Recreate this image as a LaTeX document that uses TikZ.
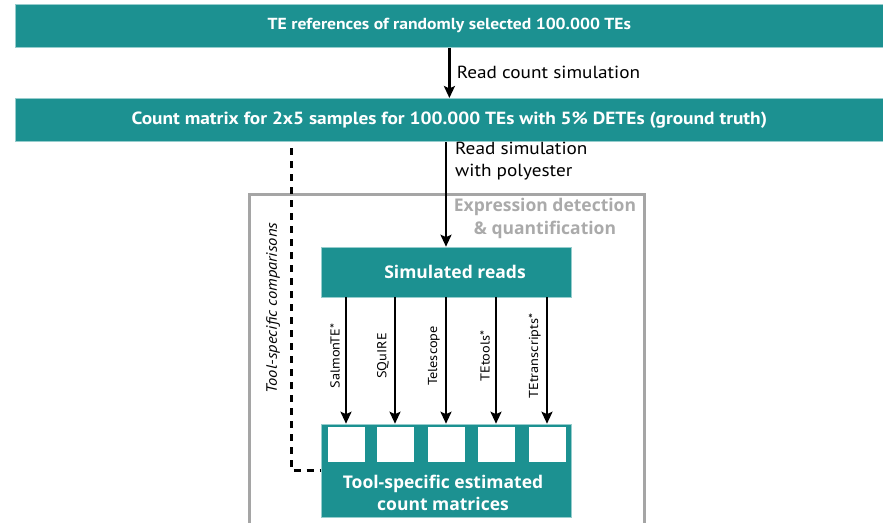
\documentclass[tikz,border=0pt]{standalone}
\usepackage{fontspec}
\setmainfont{PT Sans}[FakeStretch=1.1]
\newfontfamily\boxfont{Open Sans}
\usetikzlibrary{arrows.meta}
\definecolor{tealbar}{RGB}{28,145,145}
\definecolor{tealedge}{RGB}{150,205,205}
\definecolor{framegray}{RGB}{165,165,165}
\definecolor{labelgray}{RGB}{170,170,170}
\begin{document}
\begin{tikzpicture}[x=1pt,y=-1pt,
  bar/.style={fill=tealbar, draw=tealedge, line width=0.8pt, text=white,
    minimum width=868pt, minimum height=43pt, inner sep=0pt, anchor=north west,
    font=\fontsize{16}{19}\selectfont\bfseries},
  tealbox/.style={fill=tealbar, draw=tealedge, line width=0.6pt, text=white,
    minimum width=250pt, inner sep=0pt, align=center},
  boxtext/.style={text=white, align=center, inner sep=0pt,
    font=\boxfont\fontsize{17.5}{22}\selectfont\bfseries},
  cell/.style={fill=white, minimum width=37pt, minimum height=35pt, inner sep=0pt},
  flow/.style={line width=2.8pt, -{Stealth[length=12pt,width=11pt,inset=2.5pt]}},
  toollabel/.style={rotate=90, anchor=south, inner sep=3pt,
    font=\fontsize{13}{15}\selectfont},
  steplabel/.style={anchor=west, align=left, inner sep=0pt,
    font=\fontsize{17.5}{22}\selectfont},
  cmpline/.style={line width=3pt, dash pattern=on 7pt off 6pt}
]
\useasboundingbox (0,0) rectangle (883,522);

% input stages
\node[bar] (refs) at (15,4) {TE references of randomly selected 100.000 TEs};
\node[bar, font=\fontsize{17.6}{20}\selectfont\bfseries] (counts) at (15,98)
  {Count matrix for 2x5 samples for 100.000 TEs with 5\% DETEs (ground truth)};

% frame around the quantification stage
\node[draw=framegray, line width=2.5pt, minimum width=395pt, minimum height=345pt,
  inner sep=0pt, anchor=north west] (stage) at (248,193) {};
\node[text=labelgray, align=center, inner sep=0pt,
  font=\boxfont\fontsize{17.5}{23}\selectfont\bfseries] (stagetitle) at (545,218)
  {Expression detection\\\& quantification};

% simulated reads and per-tool count matrices
\node[tealbox, minimum height=50pt] (sim) at (446,272) {};
\node[boxtext] (simtext) at (455,272) {Simulated reads};
\node[tealbox, minimum height=93pt] (mat) at (446,470.5) {};
\node[boxtext] (mattext) at (443,493) {Tool-specific estimated\\count matrices};
\node[cell] (c1) at (346,444.5) {};
\node[cell] (c2) at (395,444.5) {};
\node[cell] (c3) at (446,444.5) {};
\node[cell] (c4) at (496,444.5) {};
\node[cell] (c5) at (547,444.5) {};

% simulation steps
\draw[flow] (refs.south) -- node[steplabel, xshift=6pt] (lab1) {Read count simulation} (counts.north);
\draw[flow] (counts.south -| sim.north) -- (sim.north);
\node[steplabel] (lab2) at (455,161) {Read simulation\\with polyester};

% one arrow per quantification tool
\foreach \c/\t in {c1/SalmonTE*, c2/SQuIRE, c3/Telescope, c4/TEtools*, c5/TEtranscripts*}{
  \draw[flow] (sim.south -| \c.north) -- (mat.north -| \c.north);
  \node[toollabel] (lab-\c) at ([xshift=-3pt]\c.north |- 0,356) {\t};
}

% comparison against the ground truth
\coordinate (cmptop) at (291,148);
\draw[cmpline] (cmptop) |- (mat.west);
\node[rotate=90, inner sep=0pt, font=\fontsize{15}{18}\selectfont\itshape] (cmp) at (273,308)
  {Tool-specific comparisons};
\end{tikzpicture}
\end{document}
